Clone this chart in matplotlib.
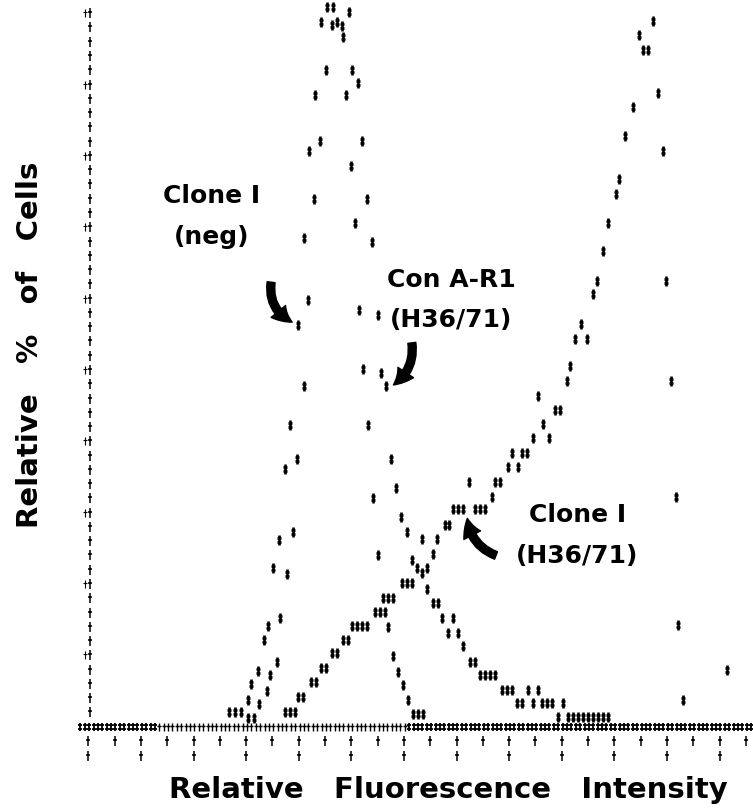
import numpy as np
import matplotlib.pyplot as plt
from matplotlib.path import Path

# channel (x) and relative % of cells (y)
neg_x = [53.6, 55.8, 57.9, 60.6, 61.9, 64.6, 66.8, 68.2, 70.1, 72.5, 74.8, 76.7, 79.6,
         82.0, 83.9, 86.2, 88.5, 90.8, 92.5, 94.4, 96.7, 98.0, 99.9, 101.4, 103.0, 104.6,
         106.5, 108.4, 110.3, 113.8, 115.7, 117.9, 119.8, 121.7, 123.6, 125.5, 127.4]
neg_y = [2.0, 2.0, 2.0, 3.8, 6.0, 7.8, 12.1, 14.1, 22.2, 26.2, 36.1, 42.3, 56.3,
         68.5, 80.7, 88.6, 98.8, 100.8, 98.3, 98.7, 96.7, 88.6, 78.6, 70.6, 58.4, 50.2,
         42.3, 32.1, 24.1, 14.0, 9.9, 7.7, 5.8, 3.8, 1.8, 1.8, 1.8]

cona_x = [60.8, 63.1, 65.0, 67.8, 69.1, 71.9, 72.9, 75.7, 77.7, 79.2, 82.0, 83.4, 85.8,
          88.1, 90.4, 93.0, 96.3, 99.2, 100.4, 102.4, 104.0, 105.9, 107.8, 110.0, 111.3,
          113.2, 115.1, 116.9, 118.9, 121.1, 123.0, 124.9, 126.8, 128.7, 131.2, 132.9,
          134.6, 136.9, 138.8, 140.7, 142.6, 145.1, 147.0, 148.9, 150.8, 152.7, 154.6,
          157.2, 159.1, 161.0, 162.9, 164.8, 167.1, 169.2, 171.1, 172.4, 174.3, 176.2,
          178.7, 180.6, 182.5, 184.4, 186.3, 188.2, 190.1, 192.0, 193.9, 195.8, 197.7]
cona_y = [1.2, 1.2, 3.2, 5.0, 7.2, 9.1, 15.3, 21.4, 27.3, 37.5, 47.7, 59.8, 73.9,
          82.1, 92.1, 100.8, 98.2, 100.2, 92.1, 90.2, 82.1, 73.9, 67.9, 57.7, 49.6,
          47.7, 37.5, 33.4, 29.4, 27.3, 23.4, 22.2, 21.5, 19.3, 17.3, 17.3,
          15.2, 13.2, 15.2, 13.2, 11.3, 9.1, 9.1, 7.2, 7.2, 7.2, 7.2,
          5.2, 5.2, 5.2, 3.3, 3.3, 5.2, 3.3, 5.2, 3.3, 3.3, 3.3,
          1.4, 3.3, 1.4, 1.4, 1.4, 1.4, 1.4, 1.4, 1.4, 1.4, 1.4]

h36_x = [74.8, 76.7, 78.6, 79.8, 81.7, 84.7, 86.6, 88.4, 90.3, 92.5, 94.4, 96.7, 98.6,
         100.2, 102.1, 104.0, 105.9, 109.0, 110.9, 112.8, 111.9, 113.8, 115.7, 119.2,
         121.1, 123.0, 128.7, 131.2, 126.8, 132.7, 135.6, 137.3, 138.8, 140.7, 142.6,
         144.8, 147.0, 148.9, 150.8, 153.4, 154.6, 156.5, 159.7, 161.0, 163.5, 164.8,
         166.7, 169.0, 171.1, 173.0, 175.2, 177.4, 179.3, 181.9, 183.2, 185.1, 187.2,
         189.5, 192.0, 193.3, 195.6, 197.7, 200.6, 201.9, 204.1, 207.2, 209.4, 210.8,
         212.8, 214.6, 216.7, 218.4, 219.7, 221.4, 223.3, 224.1, 226.0, 242.7]
h36_y = [2.0, 2.0, 2.0, 4.1, 4.1, 6.2, 6.2, 8.2, 8.2, 10.3, 10.3, 12.2, 12.2,
         14.1, 14.1, 14.1, 14.1, 16.1, 16.1, 16.1, 18.1, 18.1, 18.1, 20.2,
         20.2, 20.2, 22.2, 24.2, 26.3, 26.3, 28.3, 28.3, 30.5, 30.5, 30.5,
         34.3, 30.5, 30.5, 30.5, 32.2, 34.3, 34.3, 36.4, 38.3, 36.4, 38.3,
         38.3, 40.4, 46.4, 42.4, 40.4, 44.4, 44.4, 48.4, 50.5, 54.4, 56.5,
         54.4, 60.6, 62.5, 66.7, 70.6, 74.7, 76.7, 82.8, 86.8, 96.9, 94.9,
         94.9, 98.9, 88.8, 80.7, 62.5, 48.4, 32.2, 14.3, 3.8, 8.0]

xticks_1 = list(range(0, 251, 10))
xticks_2 = list(range(0, 241, 20))
yticks = list(range(2, 101, 2))
yticks_major = list(range(10, 101, 10))
base_x = np.arange(-3, 253, 5 / 3)

# printer glyphs
M, L = Path.MOVETO, Path.LINETO
ddag = Path([(0, -1), (0, 1), (-0.55, 0.45), (0.55, 0.45), (-0.55, -0.45), (0.55, -0.45)],
            [M, L, M, L, M, L])
cross = Path([(0, -1), (0, 1), (-0.5, 0.25), (0.5, 0.25)], [M, L, M, L])

fig = plt.figure(figsize=(7.53, 8.09), dpi=100)
ax = fig.add_axes([0, 0, 1, 1])
ax.set_xlim(-33.57, 252.7)
ax.set_ylim(-11.53, 101.85)
ax.axis('off')

pt = dict(ls='none', color='black', mfc='none', clip_on=False)
for xs, ys in [(neg_x, neg_y), (cona_x, cona_y), (h36_x, h36_y)]:
    ax.plot(xs, ys, marker=ddag, ms=6.5, mew=1.9, **pt)

# baseline row
dd = (base_x < 26) | (base_x > 121)
ax.plot(base_x[dd], np.zeros(dd.sum()), marker=ddag, ms=5.5, mew=1.3, **pt)
ax.plot(base_x[~dd], np.zeros((~dd).sum()), marker=cross, ms=5.5, mew=1.0, **pt)

# axis tick marks
ax.plot(xticks_1, [-2.0] * len(xticks_1), marker=cross, ms=7, mew=1.1, **pt)
ax.plot(xticks_2, [-4.1] * len(xticks_2), marker=cross, ms=7, mew=1.1, **pt)
ax.plot([0.65] * len(yticks), yticks, marker=cross, ms=7, mew=1.1, **pt)
ax.plot([-1.25] * len(yticks_major), yticks_major, marker=cross, ms=6, mew=0.8, **pt)

font = dict(family='DejaVu Sans', weight='bold', ha='center', va='center')
ax.text(47, 71.5, 'Clone I\n(neg)', fontsize=18, linespacing=1.85, **font)
ax.text(138, 59.8, 'Con A-R1\n(H36/71)', fontsize=18, linespacing=1.85, **font)
ax.text(186, 26.8, 'Clone I\n(H36/71)', fontsize=18, linespacing=1.85, **font)

arrow = dict(arrowstyle='simple,head_length=0.7,head_width=0.75,tail_width=0.32',
             color='black', mutation_scale=18, shrinkA=0, shrinkB=0)
ax.annotate('', xy=(77.5, 56.7), xytext=(69.5, 62.3),
            arrowprops=dict(connectionstyle='arc3,rad=0.35', **arrow))
ax.annotate('', xy=(116.0, 47.9), xytext=(123.0, 53.8),
            arrowprops=dict(connectionstyle='arc3,rad=-0.3', **arrow))
ax.annotate('', xy=(144.1, 29.2), xytext=(155.0, 24.0),
            arrowprops=dict(connectionstyle='arc3,rad=-0.3', **arrow))

fig.text(0.595, 0.0235, 'Relative   Fluorescence   Intensity', fontsize=21, **font)
fig.text(0.04, 0.574, 'Relative   %   of   Cells', fontsize=21, rotation=90, **font)

fig.savefig('out.png', dpi=100)
